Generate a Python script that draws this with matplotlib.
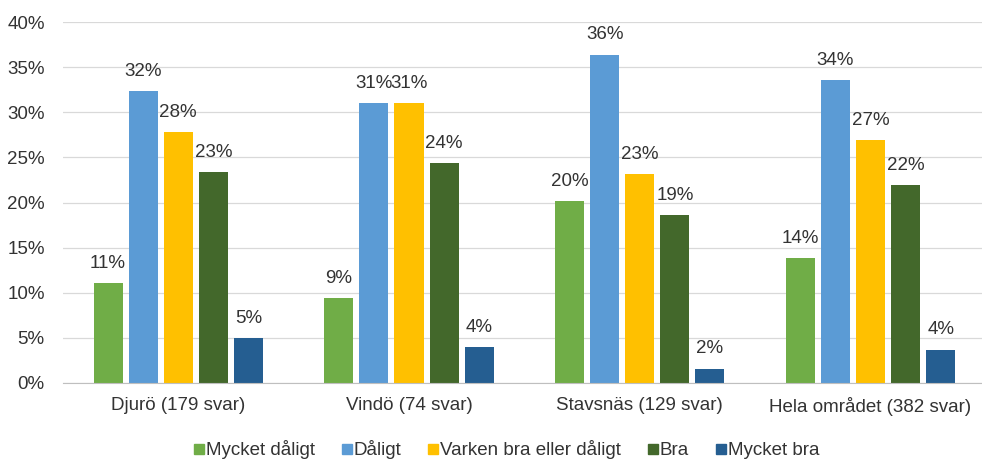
import numpy as np
import matplotlib.pyplot as plt

plt.rcParams['font.family'] = ['Liberation Sans', 'DejaVu Sans']

categories = ['Djurö (179 svar)', 'Vindö (74 svar)', 'Stavsnäs (129 svar)', 'Hela området (382 svar)']
series = ['Mycket dåligt', 'Dåligt', 'Varken bra eller dåligt', 'Bra', 'Mycket bra']
mycket_daligt = [11.1, 9.4, 20.2, 13.8]
daligt = [32.4, 31.0, 36.4, 33.6]
varken = [27.8, 31.0, 23.2, 26.9]
bra = [23.4, 24.4, 18.6, 21.9]
mycket_bra = [5.0, 4.0, 1.6, 3.7]
colors = ['#70AD47', '#5B9BD5', '#FFC000', '#43682B', '#255E91']

values = [mycket_daligt, daligt, varken, bra, mycket_bra]
fs = 13.5
txt = '#333333'

fig = plt.figure(figsize=(9.82, 4.59), dpi=100)
ax = fig.add_axes([0.064, 0.1656, 0.94, 0.7864])

x = np.arange(len(categories))
width = 0.126
step = 0.152
for i, (name, vals, c) in enumerate(zip(series, values, colors)):
    pos = x + (i - 2) * step
    bars = ax.bar(pos, vals, width, color=c, label=name, zorder=3)
    for b, v in zip(bars, vals):
        ax.annotate('%.0f%%' % v, (b.get_x() + b.get_width() / 2, v),
                    xytext=(0, 8), textcoords='offset points',
                    ha='center', va='bottom', fontsize=fs, color=txt)

ax.set_xlim(-0.5, len(categories) - 0.5)
ax.set_ylim(0, 40)
ax.set_yticks(np.arange(0, 41, 5))
ax.set_yticklabels(['%d%%' % t for t in range(0, 41, 5)])
ax.set_xticks(x)
ax.set_xticklabels(categories)
ax.tick_params(axis='both', length=0, labelsize=fs, labelcolor=txt)
ax.tick_params(axis='y', pad=13)
ax.tick_params(axis='x', pad=10)
ax.grid(axis='y', color='#D9D9D9', linewidth=0.9, zorder=0)
for s in ['top', 'right', 'left']:
    ax.spines[s].set_visible(False)
ax.spines['bottom'].set_color('#BFBFBF')
ax.spines['bottom'].set_zorder(4)

handles = [plt.Line2D([], [], marker='s', linestyle='', color=c, markersize=6.5) for c in colors]
fig.legend(handles, series, loc='lower center', bbox_to_anchor=(0.516, -0.037), ncol=5,
           frameon=False, fontsize=fs, handlelength=0.5, handletextpad=0.12,
           columnspacing=1.45, labelcolor=txt)

fig.savefig('out.png', dpi=100)
